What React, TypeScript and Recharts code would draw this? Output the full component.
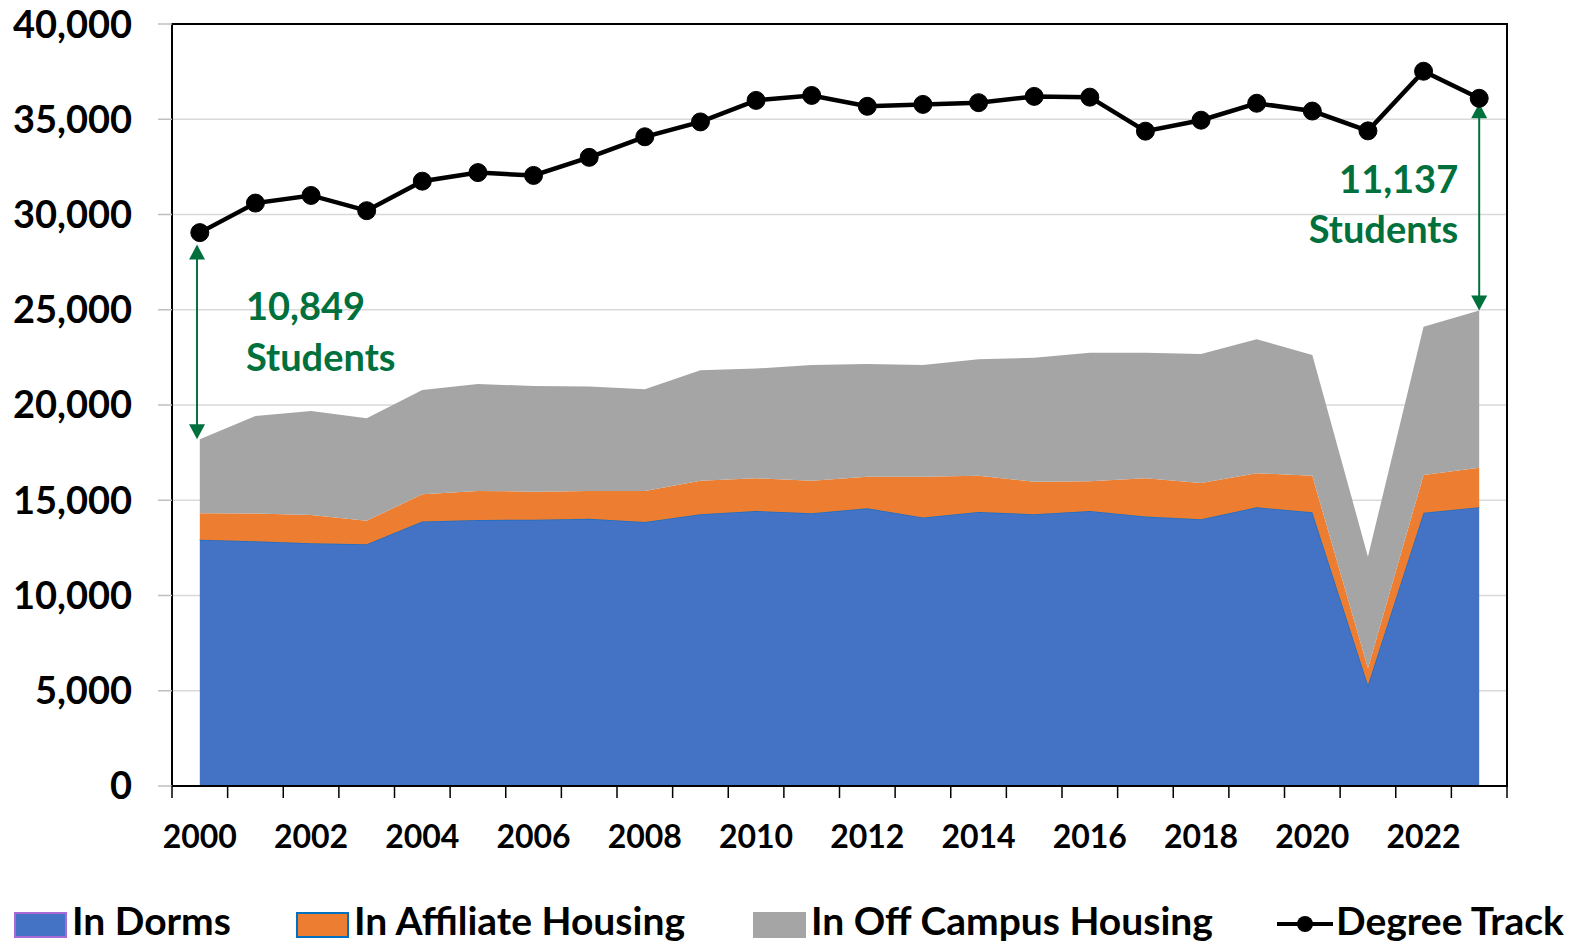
import React from "react";
import {
  ComposedChart,
  Area,
  Line,
  XAxis,
  YAxis,
  CartesianGrid,
  ReferenceArea,
  ReferenceLine,
} from "recharts";

const years = [
  2000, 2001, 2002, 2003, 2004, 2005, 2006, 2007, 2008, 2009, 2010, 2011,
  2012, 2013, 2014, 2015, 2016, 2017, 2018, 2019, 2020, 2021, 2022, 2023,
];
const inDorms = [
  12920, 12850, 12740, 12690, 13880, 13960, 13980, 14030, 13860, 14270, 14440, 14320,
  14580, 14100, 14380, 14270, 14440, 14150, 14000, 14630, 14370, 5300, 14350, 14630,
];
const inAffiliate = [
  1400, 1450, 1490, 1240, 1430, 1530, 1470, 1460, 1630, 1750, 1710, 1700,
  1650, 2130, 1900, 1700, 1560, 2000, 1900, 1790, 1910, 880, 1980, 2080,
];
const inOffCampus = [
  3880, 5120, 5460, 5370, 5480, 5610, 5550, 5480, 5340, 5800, 5760, 6080,
  5920, 5870, 6120, 6510, 6740, 6590, 6780, 7030, 6350, 5860, 7780, 8253,
];
const degreeTrack = [
  29049, 30600, 31000, 30200, 31750, 32200, 32050, 33000, 34080, 34860, 35990, 36250,
  35680, 35780, 35870, 36200, 36160, 34375, 34950, 35840, 35430, 34390, 37520, 36100,
];
const yTicks = [0, 5000, 10000, 15000, 20000, 25000, 30000, 35000, 40000];
const xLabelYears = years.filter((y) => y % 2 === 0);

const data = years.map((year, i) => ({
  year,
  dorms: inDorms[i],
  affiliate: inAffiliate[i],
  offCampus: inOffCampus[i],
  degree: degreeTrack[i],
}));

const FONT = "Lato, 'Open Sans', sans-serif";
const GREEN = "#00703c";
const BLUE = "#4472c4";
const ORANGE = "#ed7d31";
const GRAY = "#a5a5a5";

const first = 0;
const last = years.length - 1;
const totalAt = (i: number) => inDorms[i] + inAffiliate[i] + inOffCampus[i];
const gapFirst = degreeTrack[first] - totalAt(first);
const gapLast = degreeTrack[last] - totalAt(last);

// x tick marks sit between years, labels sit on even years
const boundaries = [...years.map((y) => y - 0.5), years[last] + 0.5];
const xTicks = [...boundaries, ...xLabelYears].sort((a, b) => a - b);

function XTick(props: any) {
  const { x, y, payload } = props;
  const v = payload.value as number;
  if (v % 1 !== 0) {
    return <line x1={x} x2={x} y1={y} y2={y + 12} stroke="#000" strokeWidth={1.5} />;
  }
  return (
    <text
      x={x}
      y={y + 49}
      textAnchor="middle"
      dominantBaseline="central"
      fontFamily={FONT}
      fontWeight={700}
      fontSize={32}
      fill="#000"
    >
      {v}
    </text>
  );
}

const arrowShape =
  (lines: string[], topGap: number, dx: number, dy1: number, dy2: number, anchor: "start" | "end") =>
  (props: any) => {
    const { x1, y1, y2 } = props;
    const x = x1;
    const top = Math.min(y1, y2) + topGap;
    const bottom = Math.max(y1, y2);
    return (
      <g>
        <line x1={x} x2={x} y1={top + 10} y2={bottom - 10} stroke={GREEN} strokeWidth={2} />
        <polygon points={`${x},${top} ${x - 8},${top + 15} ${x + 8},${top + 15}`} fill={GREEN} />
        <polygon points={`${x},${bottom} ${x - 8},${bottom - 15} ${x + 8},${bottom - 15}`} fill={GREEN} />
        <text x={x + dx} y={top + dy1} textAnchor={anchor} fontFamily={FONT} fontWeight={700} fontSize={38} fill={GREEN}>
          {lines[0]}
        </text>
        <text x={x + dx} y={top + dy2} textAnchor={anchor} fontFamily={FONT} fontWeight={700} fontSize={38} fill={GREEN}>
          {lines[1]}
        </text>
      </g>
    );
  };

const legendItems = [
  { label: "In Dorms", left: 14, fill: BLUE, border: "#a86bd6" },
  { label: "In Affiliate Housing", left: 296, fill: ORANGE, border: "#0070c0" },
  { label: "In Off Campus Housing", left: 753, fill: GRAY, border: GRAY },
];

const legendText: React.CSSProperties = {
  position: "absolute",
  top: 901,
  height: 39,
  lineHeight: "39px",
  fontFamily: FONT,
  fontWeight: 700,
  fontSize: 39,
  color: "#000",
  whiteSpace: "nowrap",
};

export default function App() {
  return (
    <div style={{ position: "absolute", left: 0, top: 0, width: 1585, height: 944, background: "#fff", overflow: "hidden" }}>
      <ComposedChart width={1585} height={944} data={data} margin={{ top: 24, right: 78, bottom: 0, left: 0 }}>
        <CartesianGrid horizontal vertical={false} stroke="#d9d9d9" strokeWidth={1.5} />
        <XAxis
          dataKey="year"
          type="number"
          domain={[years[first] - 0.5, years[last] + 0.5]}
          ticks={xTicks}
          interval={0}
          height={158}
          tickSize={0}
          tickMargin={0}
          tickLine={false}
          axisLine={false}
          tick={<XTick />}
        />
        <YAxis
          width={172}
          domain={[0, 40000]}
          ticks={yTicks}
          interval={0}
          tickSize={14}
          tickMargin={26}
          axisLine={false}
          tickLine={{ stroke: "#bfbfbf", strokeWidth: 1.5 }}
          tickFormatter={(v: number) => v.toLocaleString("en-US")}
          tick={{ fontFamily: FONT, fontWeight: 700, fontSize: 38, fill: "#000" }}
        />
        <Area type="linear" dataKey="dorms" stackId="a" fill={BLUE} fillOpacity={1} stroke="#1f6fc0" strokeWidth={1.5} isAnimationActive={false} />
        <Area type="linear" dataKey="affiliate" stackId="a" fill={ORANGE} fillOpacity={1} stroke="none" isAnimationActive={false} />
        <Area type="linear" dataKey="offCampus" stackId="a" fill={GRAY} fillOpacity={1} stroke="none" isAnimationActive={false} />
        <Line
          type="linear"
          dataKey="degree"
          stroke="#000"
          strokeWidth={4.5}
          dot={{ r: 9, fill: "#000", stroke: "#000", strokeWidth: 1 }}
          activeDot={false}
          isAnimationActive={false}
        />
        <ReferenceArea
          x1={years[first] - 0.5}
          x2={years[last] + 0.5}
          y1={0}
          y2={40000}
          fill="none"
          fillOpacity={0}
          stroke="#000"
          strokeWidth={2}
        />
        <ReferenceLine
          segment={[
            { x: years[first] - 0.05, y: totalAt(first) },
            { x: years[first] - 0.05, y: degreeTrack[first] },
          ]}
          shape={arrowShape([gapFirst.toLocaleString("en-US"), "Students"], 12, 49, 75, 126, "start")}
        />
        <ReferenceLine
          segment={[
            { x: years[last], y: totalAt(last) },
            { x: years[last], y: degreeTrack[last] },
          ]}
          shape={arrowShape([gapLast.toLocaleString("en-US"), "Students"], 5, -21, 90, 140, "end")}
        />
      </ComposedChart>
      {legendItems.map((item) => (
        <React.Fragment key={item.label}>
          <div
            style={{
              position: "absolute",
              left: item.left,
              top: 912,
              width: 49,
              height: 22,
              background: item.fill,
              border: `2px solid ${item.border}`,
            }}
          />
          <div style={{ ...legendText, left: item.left + 58 }}>{item.label}</div>
        </React.Fragment>
      ))}
      <svg width={56} height={20} style={{ position: "absolute", left: 1277, top: 914 }}>
        <line x1={0} x2={56} y1={10} y2={10} stroke="#000" strokeWidth={4} />
        <circle cx={28} cy={10} r={8} fill="#000" />
      </svg>
      <div style={{ ...legendText, left: 1336 }}>Degree Track</div>
    </div>
  );
}
